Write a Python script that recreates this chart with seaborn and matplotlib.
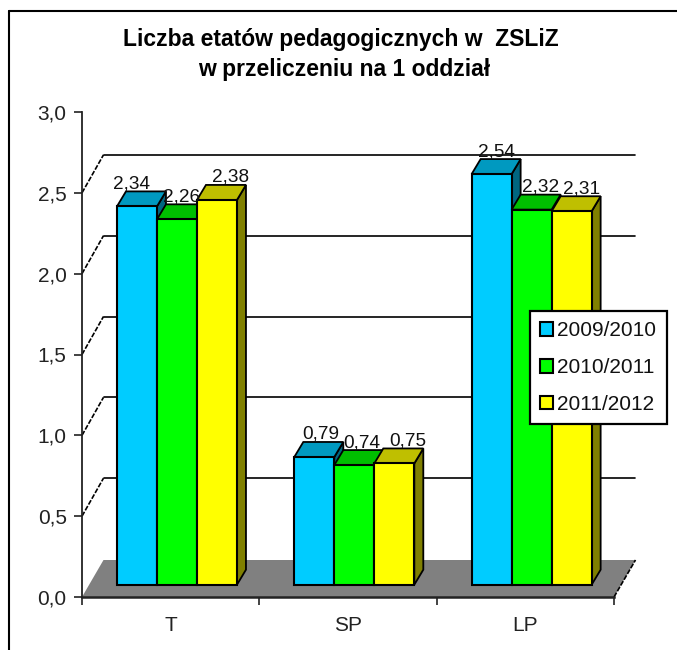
import matplotlib
matplotlib.use("Agg")
import matplotlib.pyplot as plt
import seaborn as sns
import pandas as pd
from matplotlib.lines import Line2D
from matplotlib.patches import Polygon
from matplotlib.transforms import Affine2D, IdentityTransform

categories = ["T", "SP", "LP"]
years = ["2009/2010", "2010/2011", "2011/2012"]
v_2009 = [2.34, 0.79, 2.54]
v_2010 = [2.26, 0.74, 2.32]
v_2011 = [2.38, 0.75, 2.31]
y_ticks = [0, 0.5, 1.0, 1.5, 2.0, 2.5, 3.0]
y_tick_labels = ["0,0", "0,5", "1,0", "1,5", "2,0", "2,5", "3,0"]

front_colors = ["#00CCFF", "#00FF00", "#FFFF00"]
top_colors = ["#0099C0", "#00BF00", "#BFBF00"]
side_colors = ["#006680", "#008000", "#808000"]

W, H = 677, 650
sns.set_style("white")
plt.rcParams["font.family"] = ["Liberation Sans", "DejaVu Sans"]
TXT = "#111111"

df = pd.DataFrame({
    "category": categories * 3,
    "year": [y for y in years for _ in categories],
    "value": v_2009 + v_2010 + v_2011,
})

fig = plt.figure(figsize=(W / 100, H / 100), dpi=100, facecolor="white")
L, R, B, T = 82, 614, 597, 112
ax = fig.add_axes([L / W, 1 - B / H, (R - L) / W, (B - T) / H])
ax.patch.set_alpha(0)

sns.barplot(data=df, x="category", y="value", hue="year", order=categories, hue_order=years,
            palette=front_colors, width=120 / 177.33, gap=0, saturation=1, ax=ax,
            edgecolor="black", linewidth=1.5)
ax.set_xlim(-0.5, 2.5)
ax.set_ylim(0, 3)
ax.set_xlabel("")
ax.set_ylabel("")

# pseudo-3D depth, in pixels
FLOOR_DX, FLOOR_DY = 21.5, 37      # full depth of the plot box
BAR_DX, BAR_DY = 6.3, 12.3         # bars stand inside the box
FACE_DX, FACE_DY = 9, 15           # depth of a bar

dt = ax.transData
px = IdentityTransform()


def P(x, y, dx=0.0, dy=0.0):
    X, Y = dt.transform((x, y))
    return (X + dx, Y + dy)


# floor
ax.add_patch(Polygon([P(-0.5, 0), P(2.5, 0), P(2.5, 0, FLOOR_DX, FLOOR_DY), P(-0.5, 0, FLOOR_DX, FLOOR_DY)],
                     closed=True, transform=px, facecolor="#808080", edgecolor="none", zorder=1, clip_on=False))
# back-wall grid and left-wall diagonals
for yv in y_ticks[1:-1]:
    ax.add_line(Line2D(*zip(P(-0.5, yv, FLOOR_DX, FLOOR_DY + 1), P(2.5, yv, FLOOR_DX, FLOOR_DY + 1)),
                       transform=px, color="black", lw=1.2, zorder=1.5, clip_on=False))
    ax.add_line(Line2D(*zip(P(-0.5, yv), P(-0.5, yv, FLOOR_DX, FLOOR_DY + 1)),
                       transform=px, color="black", lw=1.2, ls=(0, (3, 1)), zorder=1.5, clip_on=False))
ax.add_line(Line2D(*zip(P(2.5, 0), P(2.5, 0, FLOOR_DX, FLOOR_DY)),
                   transform=px, color="black", lw=1.2, ls=(0, (3, 1)), zorder=1.5, clip_on=False))

# faces of the bars
bars = [c for c in ax.containers]
label_dx = [[-5.5, 6, 5], [5, 7, 9], [13.5, 13, 10]]
for h, cont in enumerate(bars):
    base_z = 3 + h
    for i, rect in enumerate(cont.patches):
        x0, x1 = rect.get_x(), rect.get_x() + rect.get_width()
        v = rect.get_height()
        z = base_z
        rect.set_transform(dt + Affine2D().translate(BAR_DX, BAR_DY))
        rect.set_zorder(z + 0.2)
        rect.set_clip_on(False)
        rect.set_linewidth(1.5)
        ax.add_patch(Polygon([P(x1, 0, BAR_DX, BAR_DY), P(x1, v, BAR_DX, BAR_DY),
                              P(x1, v, BAR_DX + FACE_DX, BAR_DY + FACE_DY),
                              P(x1, 0, BAR_DX + FACE_DX, BAR_DY + FACE_DY)],
                             closed=True, transform=px, facecolor=side_colors[h], edgecolor="black",
                             lw=1.3, zorder=z, clip_on=False))
        ax.add_patch(Polygon([P(x0, v, BAR_DX, BAR_DY), P(x1, v, BAR_DX, BAR_DY),
                              P(x1, v, BAR_DX + FACE_DX, BAR_DY + FACE_DY),
                              P(x0, v, BAR_DX + FACE_DX, BAR_DY + FACE_DY)],
                             closed=True, transform=px, facecolor=top_colors[h], edgecolor="black",
                             lw=1.3, zorder=z + 0.1, clip_on=False))
        tx, ty = P((x0 + x1) / 2, v, BAR_DX + label_dx[h][i], BAR_DY + FACE_DY + 3)
        ax.text(tx, ty, f"{v:.2f}".replace(".", ","), transform=px, ha="center", va="baseline",
                fontsize=13.7, color=TXT, zorder=10, clip_on=False)

# axes
sns.despine(ax=ax, top=True, right=True)
for s in ("left", "bottom"):
    ax.spines[s].set_color("#222222")
    ax.spines[s].set_zorder(2)
ax.spines["left"].set_linewidth(1.3)
ax.spines["bottom"].set_linewidth(1.8)
ax.set_yticks(y_ticks, y_tick_labels)
ax.set_xticks([-0.5, 0.5, 1.5, 2.5], ["", "", "", ""])
ax.set_xticks([0, 1, 2], categories, minor=True)
ax.tick_params(axis="y", which="major", left=True, length=5.5, width=1.2, pad=5.5, labelsize=15, color="#222222", labelcolor="#222222")
ax.tick_params(axis="x", which="major", bottom=True, length=5.5, width=1.2, color="#222222")
ax.tick_params(axis="x", which="minor", bottom=False, length=0, pad=13.5, labelsize=15, labelcolor="#222222")

# legend
sns.move_legend(ax, "upper left", bbox_to_anchor=(530 / W, 1 - 311 / H), bbox_transform=fig.transFigure,
                title=None, frameon=True, fancybox=False, framealpha=1, edgecolor="black",
                borderaxespad=0, fontsize=15, handlelength=0.62, handleheight=0.62, handletextpad=0.2,
                labelspacing=0.85, borderpad=0.5, labelcolor="#111111")
leg = ax.get_legend()
leg.set_zorder(20)
leg.get_frame().set_linewidth(1.6)

# title
fig.text(341 / W, 1 - 46 / H, "Liczba etatów pedagogicznych w  ZSLiZ", ha="center", va="baseline",
         fontsize=16.5, fontweight="bold", color="black")
fig.text(344 / W, 1 - 76 / H, "w przeliczeniu na 1 oddział", ha="center", va="baseline",
         fontsize=16.5, fontweight="bold", color="black")

# chart-area border (only the top and left edges fall inside the picture)
fig.add_artist(Line2D([8.5 / W, 8.5 / W], [0, 1 - 10.5 / H], transform=fig.transFigure, color="black", lw=1.5))
fig.add_artist(Line2D([8.5 / W, 1], [1 - 10.5 / H, 1 - 10.5 / H], transform=fig.transFigure, color="black", lw=1.5))

fig.savefig("out.png", dpi=100, facecolor="white")
